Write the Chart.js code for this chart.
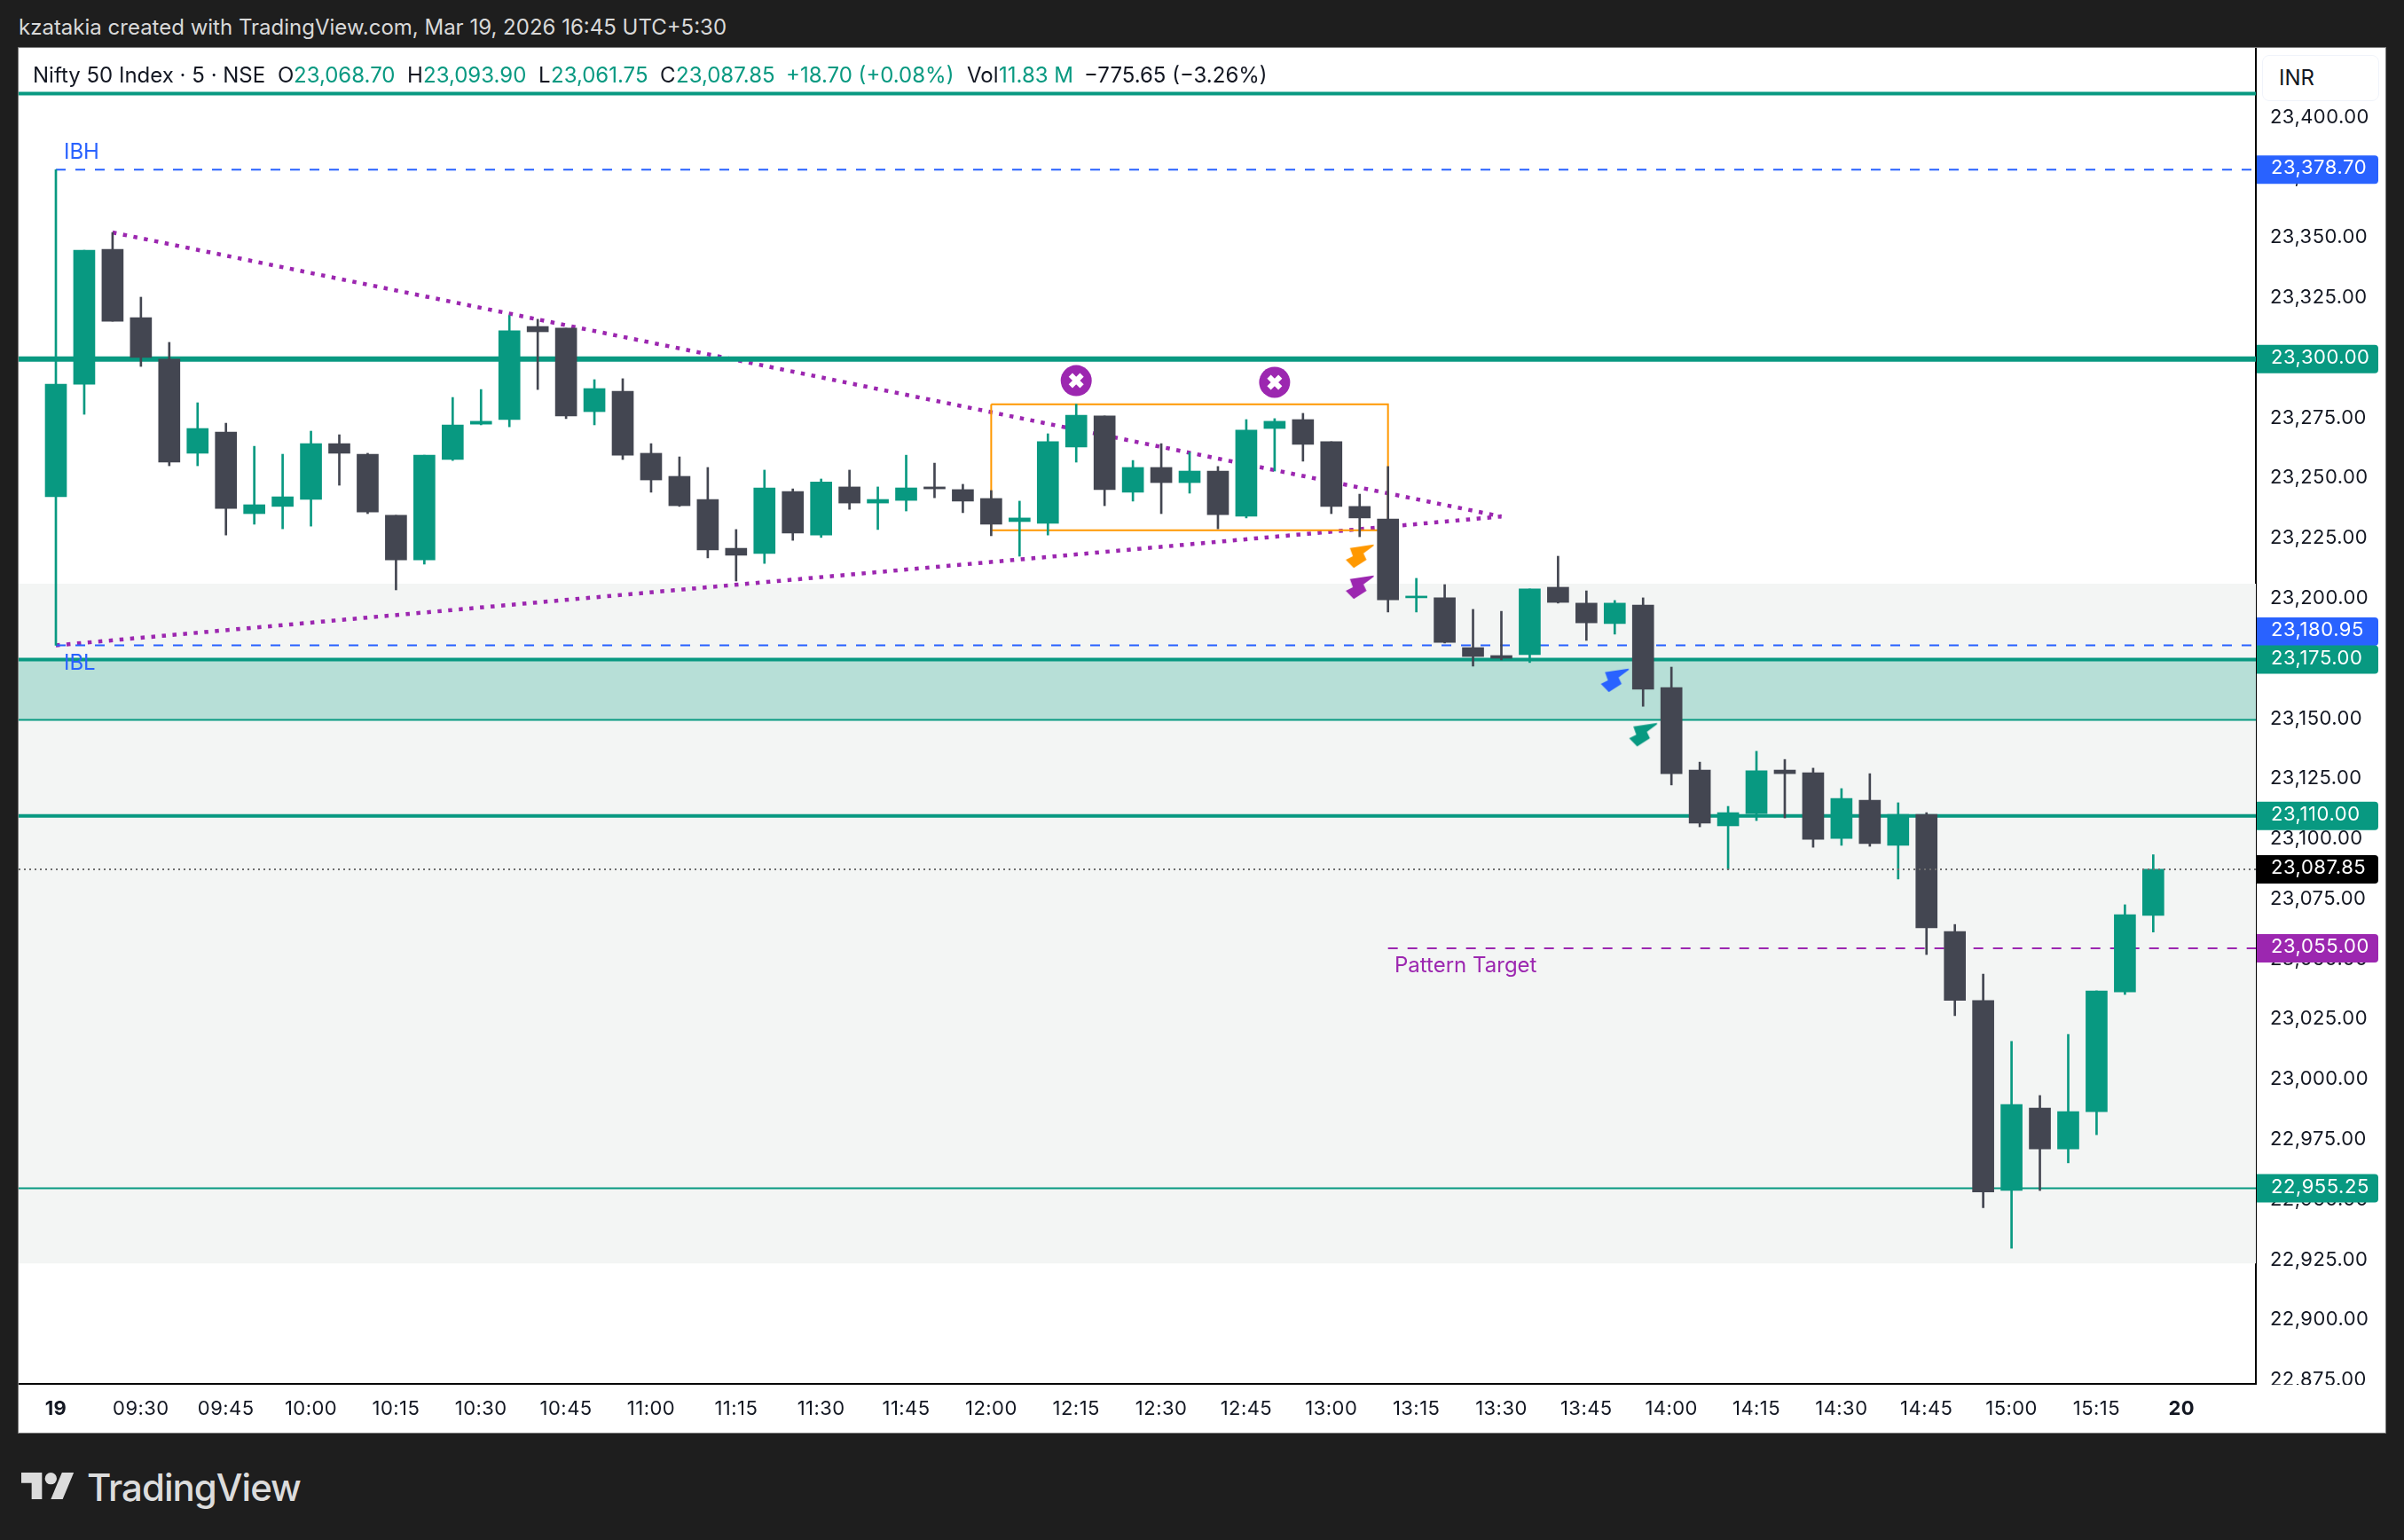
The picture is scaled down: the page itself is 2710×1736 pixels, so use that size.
<!DOCTYPE html>
<html>
<head>
<meta charset="utf-8">
<script src="https://cdn.jsdelivr.net/npm/chart.js@4"></script>
<style>
html,body{margin:0;padding:0;background:#1e1e1e;width:2710px;height:1736px;overflow:hidden;font-family:Inter,"Open Sans",sans-serif}
#panel{position:absolute;left:20px;top:53px;width:2668px;height:1561px;border:1px solid #7a7a7a;background:#fff}
#c{position:absolute;left:21px;top:54px}
.t{position:absolute;white-space:pre;font-size:24px;line-height:28px}
.k{color:#131722}.g{color:#089981}
#inr{position:absolute;left:2550px;top:62px;width:130px;height:50px;border:1px solid #f0f3fa;border-radius:8px;background:#fff}
#brand{position:absolute;left:98px;top:1652px;font-size:42px;line-height:50px;font-weight:500;color:#dcdcdc;letter-spacing:-1px}
svg{position:absolute;left:24px;top:1660px}
</style>
</head>
<body>
<div class="t" style="left:21px;top:17px;color:#d9d9d9">kzatakia created with TradingView.com, Mar 19, 2026 16:45 UTC+5:30</div>
<div id="panel"></div>
<canvas id="c" width="2668" height="1561"></canvas>
<div class="t k" style="left:37px;top:71px">Nifty 50 Index · 5 · NSE</div>
<div class="t k" style="left:313px;top:71px">O</div><div class="t g" style="left:331px;top:71px">23,068.70</div>
<div class="t k" style="left:459px;top:71px">H</div><div class="t g" style="left:477px;top:71px">23,093.90</div>
<div class="t k" style="left:607px;top:71px">L</div><div class="t g" style="left:621px;top:71px">23,061.75</div>
<div class="t k" style="left:744px;top:71px">C</div><div class="t g" style="left:762px;top:71px">23,087.85</div>
<div class="t g" style="left:886px;top:71px">+18.70 (+0.08%)</div>
<div class="t k" style="left:1090px;top:71px">Vol</div><div class="t g" style="left:1126px;top:71px">11.83 M</div>
<div class="t k" style="left:1222px;top:71px">−775.65 (−3.26%)</div>
<div id="inr"></div>
<div class="t k" style="left:2569px;top:74px">INR</div>
<svg width="60" height="30" viewBox="0 4 36 18"><path fill="#dcdcdc" d="M14 22H7V11H0V4h14v18zM28 22h-8l7.5-18h8L28 22z"/><circle fill="#dcdcdc" cx="20" cy="8" r="4"/></svg>
<div id="brand">TradingView</div>
<script>
const opens=[23242.7,23289.5,23345.6,23317.2,23299.9,23260.8,23269.6,23235.7,23238.7,23241.6,23264.8,23260.4,23235.0,23216.5,23258.2,23272.9,23274.8,23313.5,23312.8,23278.1,23286.6,23260.8,23251.2,23241.6,23221.3,23219.1,23244.9,23226.8,23246.8,23240.1,23241.2,23246.8,23245.7,23242.0,23232.4,23231.7,23263.4,23276.3,23244.6,23254.9,23248.6,23253.4,23234.6,23271.1,23274.8,23265.6,23238.7,23233.5,23200.7,23200.7,23180.0,23176.7,23177.1,23205.1,23198.5,23190.0,23197.7,23163.4,23129.1,23105.9,23111.0,23129.1,23128.0,23100.7,23116.6,23097.8,23110.7,23062.0,23033.3,22954.3,22988.6,22971.6,22987.1,23036.9,23068.7];
const highs=[23378.7,23345.2,23352.6,23325.7,23306.9,23281.8,23273.3,23263.7,23260.4,23270.0,23268.5,23260.8,23235.0,23260.0,23284.0,23287.3,23318.1,23316.5,23312.8,23291.4,23291.8,23264.8,23259.3,23254.9,23229.1,23253.8,23246.0,23250.1,23253.8,23246.8,23260.0,23256.7,23247.9,23245.3,23240.9,23268.9,23281.2,23276.3,23257.8,23264.8,23261.1,23255.3,23274.8,23275.2,23277.4,23265.6,23243.8,23255.3,23208.8,23206.2,23195.9,23195.1,23204.4,23218.0,23203.6,23199.6,23200.7,23171.9,23132.4,23114.0,23136.9,23133.5,23129.9,23121.4,23127.6,23115.5,23111.4,23064.9,23044.3,23016.3,22993.8,23019.2,23037.3,23073.1,23093.9];
const lows=[23180.95,23277.0,23315.7,23296.9,23255.6,23255.6,23226.8,23231.3,23229.4,23230.5,23247.5,23235.7,23204.0,23214.7,23257.8,23272.6,23271.8,23287.3,23275.2,23272.6,23258.2,23244.6,23238.7,23217.3,23207.7,23215.0,23224.6,23225.8,23237.5,23229.1,23236.8,23242.3,23236.1,23226.5,23218.0,23226.8,23257.1,23239.0,23240.9,23235.7,23244.2,23229.4,23233.9,23253.4,23257.5,23235.7,23226.1,23194.8,23194.8,23181.9,23172.3,23174.9,23173.8,23198.5,23183.0,23185.6,23155.6,23122.9,23105.5,23087.8,23108.1,23109.2,23097.0,23097.8,23097.4,23083.8,23052.4,23027.0,22947.2,22930.3,22954.3,22965.8,22977.5,23035.8,23061.75];
const closes=[23289.5,23345.2,23315.7,23300.6,23257.1,23271.1,23237.9,23239.4,23242.7,23264.8,23260.8,23236.4,23216.5,23260.0,23272.6,23274.1,23311.7,23311.3,23276.3,23287.7,23260.0,23249.7,23239.0,23220.6,23218.4,23246.4,23227.6,23248.9,23240.1,23241.6,23246.4,23246.0,23240.9,23231.3,23233.9,23265.6,23276.6,23245.7,23254.9,23248.6,23253.4,23235.3,23270.4,23274.1,23264.5,23238.7,23233.9,23199.9,23201.4,23182.2,23176.3,23175.6,23204.4,23198.8,23190.3,23198.5,23162.7,23127.6,23107.0,23111.4,23128.8,23127.6,23100.3,23117.3,23098.5,23110.7,23063.5,23033.4,22953.7,22990.1,22971.6,22987.1,23037.3,23069.0,23087.85];
const xTickIndex=[0,3,6,9,12,15,18,21,24,27,30,33,36,39,42,45,48,51,54,57,60,63,66,69,72,75];
const xTickLabels=["19","09:30","09:45","10:00","10:15","10:30","10:45","11:00","11:15","11:30","11:45","12:00","12:15","12:30","12:45","13:00","13:15","13:30","13:45","14:00","14:15","14:30","14:45","15:00","15:15","20"];
const yTicks=[22875,22900,22925,22950,22975,23000,23025,23050,23075,23100,23125,23150,23175,23200,23225,23250,23275,23300,23325,23350,23375,23400];
const priceTags=[23378.70,23300,23180.95,23175,23110,23087.85,23055,22955.25];
const priceTagColors=["#2962ff","#089981","#2962ff","#089981","#089981","#000000","#9c27b0","#089981"];
const priceTagNudge=[0,0,-15.5,0,0,0,0,0];
const triangleUpper=[{x:2,y:23352.6},{x:51,y:23234.5}];
const triangleLower=[{x:0,y:23180.95},{x:51,y:23234.5}];
const boxIdx=[33,47], boxPrice=[23228.8,23281.2];
const crossMarks=[{x:36,y:23291.0},{x:43,y:23290.3}];
const notes=[{t:"IBH",x:0.28,y:23386,c:"#2962ff"},{t:"IBL",x:0.28,y:23173.5,c:"#2962ff"},{t:"Pattern Target",x:47.23,y:23047.6,c:"#9c27b0"}];
const boltOrange=[{x:46,y:23218.0}], boltPurple=[{x:46,y:23205.1}], boltBlue=[{x:55,y:23166.4}], boltTeal=[{x:56,y:23143.8}];

const UP="#089981",DOWN="#434651",BLUE="#2962ff",PURPLE="#9c27b0",ORANGE="#ff9800";
const XMIN=-1.3146,XMAX=77.62,YMIN=22873.92,YMAX=23429.32;
const FONT="Inter";

function bolt(color){
  const c=document.createElement('canvas');c.width=34;c.height=30;
  const g=c.getContext('2d');g.fillStyle=color;g.beginPath();
  [[32.7,1.7],[6,5.7],[9.3,15],[1.3,19],[10.3,28.3],[24.7,19],[21.3,11.7],[32.7,3.3]].forEach((p,i)=>i?g.lineTo(p[0],p[1]):g.moveTo(p[0],p[1]));
  g.closePath();g.fill();return c;
}
const hline=(v,color,width,extra)=>Object.assign({type:'line',data:[{x:XMIN,y:v},{x:XMAX,y:v}],borderColor:color,borderWidth:width,pointRadius:0,fill:false,order:30},extra||{});
const marks=(pts,style,extra)=>Object.assign({type:'line',data:pts,showLine:false,pointStyle:style,pointRadius:16,pointBorderWidth:0,order:2},extra||{});

const datasets=[
 hline(23206.6,'rgba(0,0,0,0)',0,{fill:{value:22924},backgroundColor:'#f3f5f4',order:60}),
 hline(23175,'rgba(0,0,0,0)',0,{fill:{value:23150},backgroundColor:'#b7dfd7',order:59}),
 {type:'line',data:[{x:boxIdx[0],y:boxPrice[1]},{x:boxIdx[1],y:boxPrice[1]},{x:boxIdx[1],y:boxPrice[0]},{x:boxIdx[0],y:boxPrice[0]},{x:boxIdx[0],y:boxPrice[1]}],borderColor:ORANGE,borderWidth:2,pointRadius:0,fill:false,order:40},
 {type:'line',data:triangleUpper,borderColor:PURPLE,borderWidth:4.5,borderDash:[4.5,7.5],pointRadius:0,fill:false,order:50},
 {type:'line',data:triangleLower,borderColor:PURPLE,borderWidth:4.5,borderDash:[4.5,7.5],pointRadius:0,fill:false,order:50},
 hline(23410.3,UP,4), hline(23300,UP,6), hline(23175,UP,4), hline(23150,UP,2), hline(23110,UP,4), hline(22955.25,UP,2),
 hline(23378.70,BLUE,2,{data:[{x:0,y:23378.70},{x:XMAX,y:23378.70}],borderDash:[11,11]}),
 hline(23180.95,BLUE,2,{data:[{x:0,y:23180.95},{x:XMAX,y:23180.95}],borderDash:[11,11]}),
 hline(23055,PURPLE,2,{data:[{x:47,y:23055},{x:XMAX,y:23055}],borderDash:[11,11]}),
 {type:'bar',label:'wicks',data:opens.map((o,i)=>({x:i,y:[lows[i],highs[i]]})),backgroundColor:opens.map((o,i)=>closes[i]>=o?UP:DOWN),barThickness:2,grouped:false,borderWidth:0,order:10},
 {type:'bar',label:'bodies',data:opens.map((o,i)=>({x:i,y:[o,closes[i]]})),backgroundColor:opens.map((o,i)=>closes[i]>=o?UP:DOWN),barThickness:24,grouped:false,minBarLength:2,borderWidth:0,order:9},
 hline(23087.85,'#6e6e6e',2,{borderDash:[2,4],order:5}),
 {type:'line',data:crossMarks,showLine:false,pointStyle:'circle',pointRadius:17.5,pointBackgroundColor:PURPLE,pointBorderWidth:0,order:3},
 {type:'line',data:crossMarks,showLine:false,pointStyle:'crossRot',pointRadius:9,pointBorderColor:'#fff',pointBorderWidth:6,order:2},
 marks(boltOrange,bolt(ORANGE)), marks(boltPurple,bolt(PURPLE)), marks(boltBlue,bolt(BLUE)), marks(boltTeal,bolt(UP))
];

const noPad=s=>{s.paddingLeft=s.paddingRight=s.paddingTop=s.paddingBottom=0;};
const overlay={id:'overlay',
 beforeDraw(chart){chart.ctx.letterSpacing='0.45px';},
 afterDraw(chart){
  const g=chart.ctx,x=chart.scales.x,y=chart.scales.y,a=chart.chartArea;
  g.save();
  g.letterSpacing='0px';
  g.font='24px '+FONT;g.textBaseline='middle';g.textAlign='left';
  notes.forEach(n=>{g.fillStyle=n.c;g.fillText(n.t,x.getPixelForValue(n.x),y.getPixelForValue(n.y));});
  // bottom of the price scale is covered by the time scale's pane
  g.fillStyle='#fff';g.fillRect(a.right+1,a.bottom+1,chart.width-a.right,chart.height-a.bottom);
  g.letterSpacing='0.55px';g.font='22px '+FONT;
  priceTags.forEach((v,i)=>{
    const py=y.getPixelForValue(v)+priceTagNudge[i],h=32;
    g.fillStyle=priceTagColors[i];g.beginPath();
    g.roundRect(a.right+1,py-h/2,137,h,[0,4,4,0]);g.fill();
    g.fillStyle='#fff';
    g.fillText(v.toLocaleString('en-US',{minimumFractionDigits:2,maximumFractionDigits:2}),a.right+17,py-1.5);
  });
  g.restore();
 }};

new Chart(document.getElementById('c'),{
 type:'bar',
 data:{datasets},
 plugins:[overlay],
 options:{
  responsive:false,animation:false,devicePixelRatio:1,events:[],
  layout:{padding:0,autoPadding:false},
  plugins:{legend:{display:false},tooltip:{enabled:false}},
  scales:{
   x:{type:'linear',position:'bottom',min:XMIN,max:XMAX,offset:false,
      grid:{display:false,drawTicks:false},border:{display:true,color:'#000',width:2},
      afterFit(s){s.height=55;noPad(s);},
      afterBuildTicks(s){s.ticks=xTickIndex.map(v=>({value:v}));},
      ticks:{autoSkip:false,maxRotation:0,padding:15,color:'#131722',
        font:c=>({family:FONT,size:22,weight:(c.index===0||c.index===xTickIndex.length-1)?'700':'400'}),
        callback:(v)=>xTickLabels[xTickIndex.indexOf(v)]}},
   y:{type:'linear',position:'right',min:YMIN,max:YMAX,
      grid:{display:false,drawTicks:false},border:{display:true,color:'#000',width:2},
      afterFit(s){s.width=146;noPad(s);},
      afterBuildTicks(s){s.ticks=yTicks.map(v=>({value:v}));},
      ticks:{autoSkip:false,padding:16,labelOffset:-1.5,color:'#131722',font:{family:FONT,size:22},
        callback:v=>v.toLocaleString('en-US',{minimumFractionDigits:2,maximumFractionDigits:2})}}
  }
 }
});
</script>
</body>
</html>
